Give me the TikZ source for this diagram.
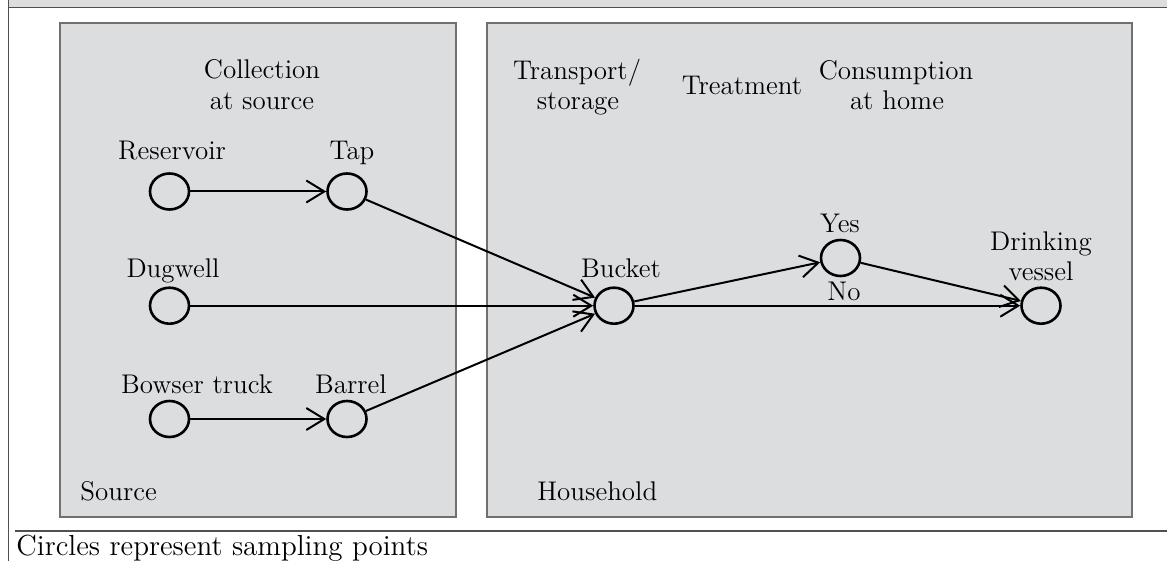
\documentclass[tikz,border=0pt]{standalone}
\usetikzlibrary{arrows.meta,shapes.geometric}
\definecolor{panel}{HTML}{DCDDDF}
\definecolor{panelline}{HTML}{707070}
\definecolor{frameline}{HTML}{505050}
\tikzset{
  px/.style={x=0.5pt,y=-0.5pt},
  lbl/.style={anchor=base,inner sep=0pt,font=\fontsize{13.5}{16}\selectfont},
  lbll/.style={anchor=base west,inner sep=0pt,font=\fontsize{13.5}{16}\selectfont},
  spt/.style={ellipse,draw,line width=1.3pt,minimum width=19.5pt,minimum height=18pt,inner sep=0pt,fill=panel},
  flow/.style={line width=1pt,-{Straight Barb[length=9pt,width=11pt,line width=1pt]}},
  box/.style={draw=panelline,fill=panel,line width=0.6pt}
}
\begin{document}
\begin{tikzpicture}[px]
\useasboundingbox (0,0) rectangle (1167,561);
% frame
\fill[panel] (8,0) rectangle (1167,7.5);
\draw[frameline,line width=0.6pt] (8,7.5) -- (1167,7.5);
\draw[frameline,line width=0.6pt] (8.5,0) -- (8.5,561);
\draw[frameline,line width=0.6pt] (15,531) -- (1167,531);
% panels
\path[box] (60,23) rectangle (456,517);
\path[box] (487,23) rectangle (1132,517);
% headings
\node[lbl] (coll1) at (262,79) {Collection};
\node[lbl] (coll2) at (262,110) {at source};
\node[lbl] (trans1) at (577,80) {Transport/};
\node[lbl] (trans2) at (578,110) {storage};
\node[lbl] (treat) at (742,95) {Treatment};
\node[lbl] (cons1) at (896,80) {Consumption};
\node[lbl] (cons2) at (897,110) {at home};
\node[lbll] (src) at (80,500) {Source};
\node[lbll] (hh) at (537,500) {Household};
\node[lbll,font=\fontsize{14.5}{17}\selectfont] (cap) at (16,555) {Circles represent sampling points};
% sampling points
\node[spt] (res) at (169.5,191.5) {};
\node[spt] (tap) at (347,191.5) {};
\node[spt] (dug) at (169.5,305.7) {};
\node[spt] (bow) at (169.5,419) {};
\node[spt] (bar) at (347,419) {};
\node[spt] (buc) at (614,305.7) {};
\node[spt] (yes) at (840.5,258) {};
\node[spt] (dri) at (1041,305.7) {};
% point labels
\node[lbl] (lres) at (172,160) {Reservoir};
\node[lbl] (ltap) at (352,160) {Tap};
\node[lbl] (ldug) at (173,278) {Dugwell};
\node[lbl] (lbow) at (197,393) {Bowser truck};
\node[lbl] (lbar) at (351,393) {Barrel};
\node[lbl] (lbuc) at (621,278) {Bucket};
\node[lbl] (lyes) at (840,233) {Yes};
\node[lbl] (lno) at (844,300) {No};
\node[lbl] (ldri1) at (1041,250) {Drinking};
\node[lbl] (ldri2) at (1041,281) {vessel};
% connectors
\draw[flow] (res) -- (tap);
\draw[flow] (bow) -- (bar);
\draw[flow] (tap) -- (buc);
\draw[flow] (dug) -- (buc);
\draw[flow] (bar) -- (buc);
\draw[flow] (buc) -- (yes);
\draw[flow] (yes) -- (dri);
\draw[flow] (buc) -- (dri);
\end{tikzpicture}
\end{document}
